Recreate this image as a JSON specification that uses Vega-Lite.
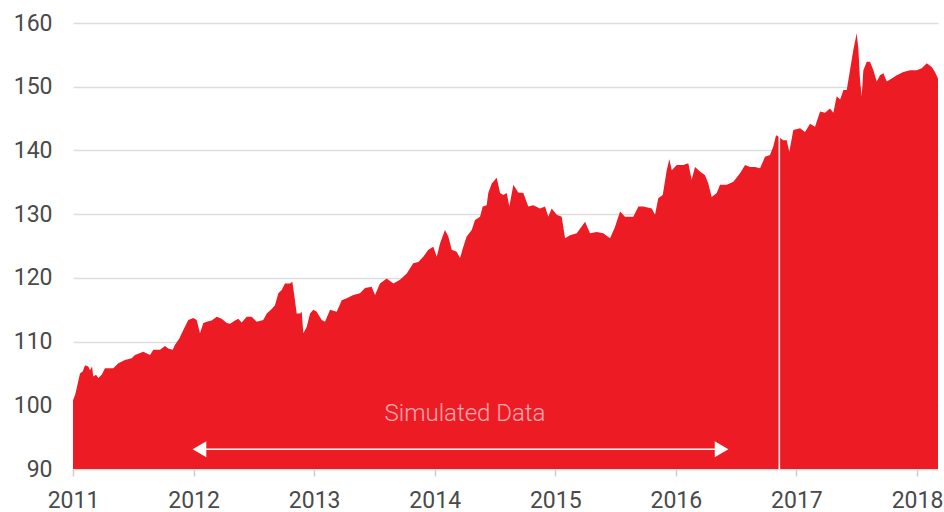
{
  "$schema": "https://vega.github.io/schema/vega-lite/v6.json",
  "autosize": "none",
  "width": 865,
  "height": 446,
  "padding": {"left": 73, "top": 23, "right": 6, "bottom": 43},
  "config": {
    "view": {"stroke": null},
    "font": "Roboto",
    "axis": {"labelFont": "Roboto", "labelFontSize": 23, "labelColor": "#4a4a4a", "title": null}
  },
  "layer": [
    {
      "data": {"values": [
        {"t": 2011.000, "v": 100.8}, {"t": 2011.017, "v": 101.6}, {"t": 2011.031, "v": 102.7}, {"t": 2011.058, "v": 105.0},
        {"t": 2011.080, "v": 105.3}, {"t": 2011.100, "v": 106.3}, {"t": 2011.127, "v": 106.1}, {"t": 2011.141, "v": 105.5},
        {"t": 2011.158, "v": 106.1}, {"t": 2011.168, "v": 104.5}, {"t": 2011.191, "v": 104.8}, {"t": 2011.210, "v": 104.3},
        {"t": 2011.238, "v": 104.8}, {"t": 2011.265, "v": 105.8}, {"t": 2011.334, "v": 105.8}, {"t": 2011.376, "v": 106.6},
        {"t": 2011.431, "v": 107.1}, {"t": 2011.487, "v": 107.4}, {"t": 2011.514, "v": 107.9}, {"t": 2011.583, "v": 108.4},
        {"t": 2011.639, "v": 107.9}, {"t": 2011.666, "v": 108.7}, {"t": 2011.722, "v": 108.7}, {"t": 2011.763, "v": 109.3},
        {"t": 2011.790, "v": 108.9}, {"t": 2011.827, "v": 108.7}, {"t": 2011.846, "v": 109.5}, {"t": 2011.882, "v": 110.5},
        {"t": 2011.915, "v": 111.8}, {"t": 2011.956, "v": 113.4}, {"t": 2011.998, "v": 113.7}, {"t": 2012.026, "v": 113.4},
        {"t": 2012.053, "v": 111.3}, {"t": 2012.081, "v": 112.9}, {"t": 2012.109, "v": 113.1}, {"t": 2012.150, "v": 113.3},
        {"t": 2012.192, "v": 113.9}, {"t": 2012.233, "v": 113.6}, {"t": 2012.275, "v": 112.9}, {"t": 2012.302, "v": 112.8},
        {"t": 2012.344, "v": 113.3}, {"t": 2012.371, "v": 113.6}, {"t": 2012.399, "v": 113.0}, {"t": 2012.441, "v": 113.9},
        {"t": 2012.482, "v": 113.9}, {"t": 2012.524, "v": 113.1}, {"t": 2012.578, "v": 113.4}, {"t": 2012.607, "v": 114.4},
        {"t": 2012.648, "v": 115.1}, {"t": 2012.675, "v": 115.7}, {"t": 2012.703, "v": 117.6}, {"t": 2012.731, "v": 118.1},
        {"t": 2012.758, "v": 119.1}, {"t": 2012.800, "v": 119.1}, {"t": 2012.819, "v": 119.4}, {"t": 2012.841, "v": 116.5},
        {"t": 2012.855, "v": 114.4}, {"t": 2012.883, "v": 114.4}, {"t": 2012.897, "v": 114.7}, {"t": 2012.910, "v": 111.3},
        {"t": 2012.938, "v": 112.3}, {"t": 2012.966, "v": 114.4}, {"t": 2012.993, "v": 115.0}, {"t": 2013.021, "v": 114.7},
        {"t": 2013.063, "v": 113.4}, {"t": 2013.090, "v": 113.1}, {"t": 2013.132, "v": 115.0}, {"t": 2013.187, "v": 114.7},
        {"t": 2013.229, "v": 116.5}, {"t": 2013.270, "v": 116.8}, {"t": 2013.325, "v": 117.3}, {"t": 2013.380, "v": 117.6},
        {"t": 2013.422, "v": 118.4}, {"t": 2013.477, "v": 118.6}, {"t": 2013.505, "v": 117.3}, {"t": 2013.546, "v": 119.1},
        {"t": 2013.602, "v": 119.9}, {"t": 2013.657, "v": 119.1}, {"t": 2013.712, "v": 119.7}, {"t": 2013.768, "v": 120.7},
        {"t": 2013.822, "v": 122.3}, {"t": 2013.864, "v": 122.5}, {"t": 2013.905, "v": 123.3}, {"t": 2013.947, "v": 124.4},
        {"t": 2013.988, "v": 124.9}, {"t": 2014.017, "v": 123.3}, {"t": 2014.044, "v": 125.4}, {"t": 2014.085, "v": 127.5},
        {"t": 2014.113, "v": 126.5}, {"t": 2014.141, "v": 124.4}, {"t": 2014.182, "v": 124.1}, {"t": 2014.210, "v": 123.1},
        {"t": 2014.237, "v": 124.9}, {"t": 2014.265, "v": 126.5}, {"t": 2014.307, "v": 127.5}, {"t": 2014.334, "v": 129.1},
        {"t": 2014.376, "v": 129.6}, {"t": 2014.398, "v": 131.2}, {"t": 2014.431, "v": 131.4}, {"t": 2014.444, "v": 133.3},
        {"t": 2014.473, "v": 134.8}, {"t": 2014.514, "v": 135.7}, {"t": 2014.542, "v": 133.3}, {"t": 2014.569, "v": 133.0},
        {"t": 2014.597, "v": 133.3}, {"t": 2014.619, "v": 131.2}, {"t": 2014.652, "v": 134.6}, {"t": 2014.693, "v": 133.4},
        {"t": 2014.735, "v": 133.3}, {"t": 2014.776, "v": 131.2}, {"t": 2014.818, "v": 131.4}, {"t": 2014.873, "v": 130.9},
        {"t": 2014.915, "v": 131.2}, {"t": 2014.942, "v": 129.6}, {"t": 2014.970, "v": 130.9}, {"t": 2015.012, "v": 129.9},
        {"t": 2015.053, "v": 129.6}, {"t": 2015.081, "v": 126.2}, {"t": 2015.122, "v": 126.7}, {"t": 2015.178, "v": 127.0},
        {"t": 2015.247, "v": 128.8}, {"t": 2015.288, "v": 127.0}, {"t": 2015.343, "v": 127.2}, {"t": 2015.398, "v": 127.0},
        {"t": 2015.454, "v": 126.2}, {"t": 2015.495, "v": 128.0}, {"t": 2015.537, "v": 130.4}, {"t": 2015.578, "v": 129.6},
        {"t": 2015.647, "v": 129.6}, {"t": 2015.689, "v": 131.2}, {"t": 2015.730, "v": 131.2}, {"t": 2015.800, "v": 130.9},
        {"t": 2015.827, "v": 129.9}, {"t": 2015.854, "v": 132.5}, {"t": 2015.891, "v": 133.0}, {"t": 2015.924, "v": 136.9},
        {"t": 2015.946, "v": 138.6}, {"t": 2015.966, "v": 136.9}, {"t": 2016.007, "v": 137.7}, {"t": 2016.062, "v": 137.7},
        {"t": 2016.103, "v": 138.0}, {"t": 2016.131, "v": 135.4}, {"t": 2016.159, "v": 137.4}, {"t": 2016.200, "v": 136.7},
        {"t": 2016.242, "v": 136.1}, {"t": 2016.269, "v": 134.8}, {"t": 2016.297, "v": 132.7}, {"t": 2016.339, "v": 133.3},
        {"t": 2016.366, "v": 134.6}, {"t": 2016.422, "v": 134.6}, {"t": 2016.477, "v": 135.1}, {"t": 2016.532, "v": 136.4},
        {"t": 2016.574, "v": 137.7}, {"t": 2016.615, "v": 137.4}, {"t": 2016.656, "v": 137.4}, {"t": 2016.698, "v": 137.2},
        {"t": 2016.739, "v": 139.0}, {"t": 2016.781, "v": 139.3}, {"t": 2016.808, "v": 140.6}, {"t": 2016.831, "v": 142.4},
        {"t": 2016.850, "v": 142.2}, {"t": 2016.891, "v": 141.6}, {"t": 2016.919, "v": 141.6}, {"t": 2016.941, "v": 139.8},
        {"t": 2016.974, "v": 143.2}, {"t": 2017.030, "v": 143.5}, {"t": 2017.071, "v": 142.9}, {"t": 2017.113, "v": 144.2},
        {"t": 2017.154, "v": 143.7}, {"t": 2017.196, "v": 146.1}, {"t": 2017.237, "v": 145.9}, {"t": 2017.278, "v": 146.6},
        {"t": 2017.306, "v": 145.9}, {"t": 2017.334, "v": 148.5}, {"t": 2017.362, "v": 148.0}, {"t": 2017.390, "v": 149.5},
        {"t": 2017.417, "v": 149.5}, {"t": 2017.444, "v": 152.6}, {"t": 2017.472, "v": 155.8}, {"t": 2017.500, "v": 158.4},
        {"t": 2017.514, "v": 155.8}, {"t": 2017.527, "v": 151.1}, {"t": 2017.541, "v": 148.5}, {"t": 2017.555, "v": 152.6},
        {"t": 2017.583, "v": 153.9}, {"t": 2017.610, "v": 153.9}, {"t": 2017.638, "v": 152.6}, {"t": 2017.666, "v": 150.8},
        {"t": 2017.693, "v": 151.8}, {"t": 2017.721, "v": 152.1}, {"t": 2017.749, "v": 150.8}, {"t": 2017.790, "v": 151.3},
        {"t": 2017.832, "v": 151.8}, {"t": 2017.887, "v": 152.3}, {"t": 2017.942, "v": 152.6}, {"t": 2017.998, "v": 152.6},
        {"t": 2018.039, "v": 152.9}, {"t": 2018.081, "v": 153.7}, {"t": 2018.122, "v": 153.1}, {"t": 2018.149, "v": 152.3},
        {"t": 2018.174, "v": 151.3}
      ]},
      "mark": {"type": "area", "color": "#ED1C24", "interpolate": "linear"},
      "encoding": {
        "x": {
          "field": "t", "type": "quantitative",
          "scale": {"domain": [2011, 2018.174], "nice": false, "zero": false},
          "axis": {
            "values": [2011, 2012, 2013, 2014, 2015, 2016, 2017, 2018],
            "format": "d", "grid": false,
            "domain": true, "domainColor": "#dddddd", "domainWidth": 1.5,
            "ticks": true, "tickColor": "#cccccc", "tickSize": 7, "tickWidth": 1.5,
            "labelPadding": 13, "labelFlush": false
          }
        },
        "y": {
          "field": "v", "type": "quantitative",
          "scale": {"domain": [90, 160], "nice": false, "zero": false},
          "axis": {
            "values": [90, 100, 110, 120, 130, 140, 150, 160],
            "grid": true, "gridColor": "#dddddd", "gridWidth": 1.5,
            "domain": false, "ticks": false, "labelPadding": 21
          }
        },
        "y2": {"datum": 90}
      }
    },
    {
      "data": {"values": [{"event": "break"}]},
      "mark": {"type": "rule", "color": "#ffffff", "strokeWidth": 1.6},
      "encoding": {"x": {"datum": 2016.858}, "y": {"datum": 90}, "y2": {"datum": 142.2}}
    },
    {
      "data": {"values": [{"label": "Simulated Data"}]},
      "mark": {"type": "rule", "color": "#ffffff", "strokeWidth": 1.5},
      "encoding": {"x": {"datum": 2012.049}, "x2": {"datum": 2016.379}, "y": {"datum": 93.1}}
    },
    {
      "data": {"values": [{"label": "Simulated Data"}]},
      "mark": {"type": "point", "shape": "triangle-left", "filled": true, "color": "#ffffff", "opacity": 1, "size": 250},
      "encoding": {"x": {"datum": 2012.049}, "y": {"datum": 93.1}}
    },
    {
      "data": {"values": [{"label": "Simulated Data"}]},
      "mark": {"type": "point", "shape": "triangle-right", "filled": true, "color": "#ffffff", "opacity": 1, "size": 250},
      "encoding": {"x": {"datum": 2016.379}, "y": {"datum": 93.1}}
    },
    {
      "data": {"values": [{"label": "Simulated Data"}]},
      "mark": {"type": "text", "font": "Roboto", "fontWeight": 300, "fontSize": 24, "color": "#ffffff", "opacity": 0.62, "align": "center", "baseline": "middle"},
      "encoding": {"x": {"datum": 2014.251}, "y": {"datum": 98.6}, "text": {"field": "label"}}
    }
  ]
}
